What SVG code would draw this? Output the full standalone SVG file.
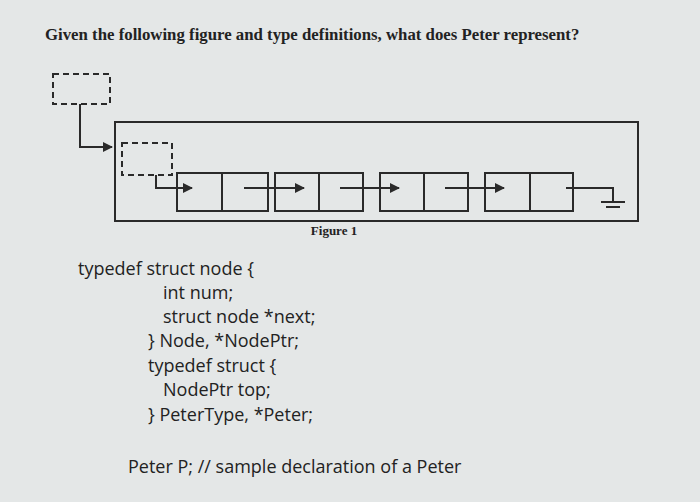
<svg xmlns="http://www.w3.org/2000/svg" width="700" height="502" viewBox="0 0 700 502">
<defs>
<marker id="ah" viewBox="0 0 10 10" refX="9" refY="5" markerWidth="5" markerHeight="5" orient="auto"><path d="M0,0L10,5L0,10z" fill="#2a2a2a"/></marker>
<style>
.s{fill:none;stroke:#2a2a2a;stroke-width:2}
.d{fill:none;stroke:#2a2a2a;stroke-width:2;stroke-dasharray:6,4}
.t{font-family:"Liberation Serif",serif;font-weight:bold;fill:#222}
.c{font-family:"Open Sans","Liberation Sans",sans-serif;font-size:18px;fill:#222}
</style>
</defs>
<rect width="700" height="502" fill="#e4e7e7"/>
<text class="t" x="45" y="40" font-size="16.8">Given the following figure and type definitions, what does Peter represent?</text>
<g id="peter"><rect class="d" x="53" y="74" width="57" height="30"/></g>
<g id="container"><rect class="s" x="115" y="122" width="523" height="99"/></g>
<g id="top"><rect class="d" x="122" y="143" width="50" height="32"/></g>
<g id="n1"><rect class="s" x="177" y="173" width="91" height="38"/><line class="s" x1="222" y1="173" x2="222" y2="211"/></g>
<g id="n2"><rect class="s" x="275" y="173" width="88" height="38"/><line class="s" x1="319" y1="173" x2="319" y2="211"/></g>
<g id="n3"><rect class="s" x="380" y="173" width="88" height="38"/><line class="s" x1="424" y1="173" x2="424" y2="211"/></g>
<g id="n4"><rect class="s" x="485" y="173" width="88" height="38"/><line class="s" x1="530" y1="173" x2="530" y2="211"/></g>
<g id="ground"><line class="s" x1="601" y1="202" x2="625" y2="202"/><line class="s" x1="606" y1="207" x2="620" y2="207"/></g>
<g id="connectors">
<polyline class="s" points="80,104 80,147 112,147" marker-end="url(#ah)"/>
<polyline class="s" points="156,175 156,188 192,188" marker-end="url(#ah)"/>
<line class="s" x1="244" y1="188" x2="304" y2="188" marker-end="url(#ah)"/>
<line class="s" x1="340" y1="188" x2="399" y2="188" marker-end="url(#ah)"/>
<line class="s" x1="445" y1="188" x2="504" y2="188" marker-end="url(#ah)"/>
<polyline class="s" points="566,188 613,188 613,201"/>
</g>
<text class="t" x="334" y="235" font-size="13" text-anchor="middle">Figure 1</text>
<text class="c" x="78" y="275">typedef struct node {</text>
<text class="c" x="163" y="299">int num;</text>
<text class="c" x="163" y="323">struct node *next;</text>
<text class="c" x="148" y="347">} Node, *NodePtr;</text>
<text class="c" x="148" y="372">typedef struct {</text>
<text class="c" x="163" y="396">NodePtr top;</text>
<text class="c" x="148" y="421">} PeterType, *Peter;</text>
<text class="c" x="128" y="473">Peter P; // sample declaration of a Peter</text>
</svg>
